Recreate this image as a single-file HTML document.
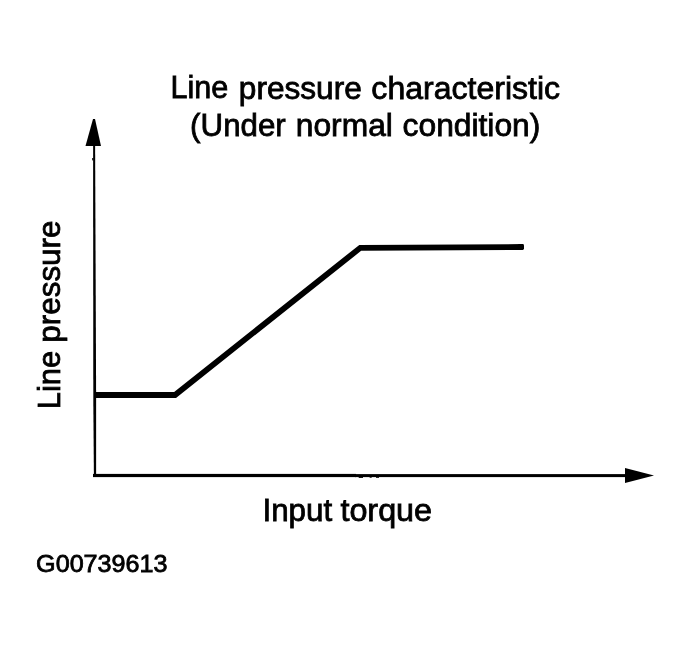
<!DOCTYPE html>
<html>
<head>
<meta charset="utf-8">
<title>Line pressure characteristic</title>
<style>
html,body{margin:0;padding:0;background:#fff;}
body{width:690px;height:648px;overflow:hidden;}
svg{display:block;}
text{font-family:"Liberation Sans",Arial,Helvetica,sans-serif;fill:#000;stroke:#000;stroke-width:0.8px;}
</style>
</head>
<body>
<svg width="690" height="648" viewBox="0 0 690 648">
  <rect width="690" height="648" fill="#fff"/>
  <!-- axes -->
  <polygon points="93.1,140 95.1,140 96.1,390 96.1,477 93.9,477 93.3,400" fill="#000"/>
  <rect x="93" y="473.9" width="263" height="3.2" fill="#000"/>
  <rect x="355" y="474.1" width="275" height="3" fill="#000"/>
  <rect x="358.7" y="476.5" width="4.3" height="1.4" fill="#000"/>
  <rect x="369.6" y="476.5" width="2.1" height="1.2" fill="#000"/>
  <rect x="376" y="476.5" width="3" height="1.3" fill="#000"/>
  <rect x="92.2" y="158" width="1.2" height="2.4" fill="#000"/>
  <polygon points="93,119 95,119 101,146 85.5,146" fill="#000"/>
  <polygon points="654,475.5 625,468 625,483" fill="#000"/>
  <!-- curve -->
  <path d="M94 395 H175 L360.3 247.8 L522.6 247" fill="none" stroke="#000" stroke-width="5.8" stroke-linejoin="miter" stroke-linecap="butt"/>
  <rect x="518" y="244.1" width="6" height="5.8" rx="1.4" fill="#000"/>

  <text><tspan x="170.45" y="98.3" font-size="31.4" textLength="57.79" lengthAdjust="spacingAndGlyphs">Line</tspan> <tspan x="238.87" y="98.5" font-size="31.2" textLength="122.89" lengthAdjust="spacingAndGlyphs">pressure</tspan> <tspan x="371.37" y="98.6" font-size="31.0" textLength="188.75" lengthAdjust="spacingAndGlyphs">characteristic</tspan></text>
  <text><tspan x="190.11" y="136.4" font-size="31.7" textLength="95.65" lengthAdjust="spacingAndGlyphs">(Under</tspan> <tspan x="295.80" y="136.4" font-size="31.7" textLength="97.05" lengthAdjust="spacingAndGlyphs">normal</tspan> <tspan x="402.60" y="136.4" font-size="31.7" textLength="137.76" lengthAdjust="spacingAndGlyphs">condition)</tspan></text>
  <text><tspan x="262.44" y="521.2" font-size="32" textLength="69.75" lengthAdjust="spacingAndGlyphs">Input</tspan> <tspan x="340.40" y="521.2" font-size="32" textLength="91.71" lengthAdjust="spacingAndGlyphs">torque</tspan></text>
  <text><tspan x="36.12" y="572.0" font-size="24.4" textLength="131.36" lengthAdjust="spacingAndGlyphs">G00739613</tspan></text>
  <text transform="translate(60.4 0) rotate(-90)"><tspan x="-409.13" y="0.00" font-size="31.9" textLength="58.24" lengthAdjust="spacingAndGlyphs">Line</tspan> <tspan x="-342.67" y="0.00" font-size="31.9" textLength="122.09" lengthAdjust="spacingAndGlyphs">pressure</tspan></text>
</svg>
</body>
</html>
